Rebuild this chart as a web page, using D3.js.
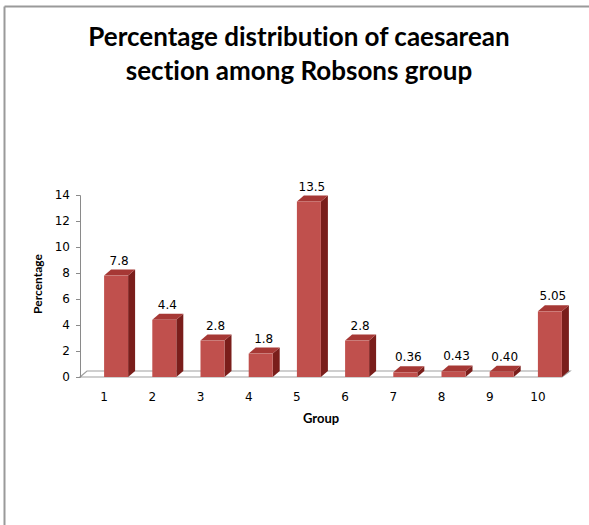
<!DOCTYPE html>
<html>
<head>
<meta charset="utf-8">
<script src="https://cdn.jsdelivr.net/npm/d3@7"></script>
<style>
  body { margin: 0; background: #fff; }
  svg { display: block; }
  text { font-variant-ligatures: none; }
</style>
</head>
<body>
<div id="chart"></div>
<script>
// Data
const groups = ['1', '2', '3', '4', '5', '6', '7', '8', '9', '10'];
const percentages = [7.8, 4.4, 2.8, 1.8, 13.5, 2.8, 0.36, 0.43, 0.40, 5.05];
const valueLabels = ['7.8', '4.4', '2.8', '1.8', '13.5', '2.8', '0.36', '0.43', '0.40', '5.05'];
const yTicks = [0, 2, 4, 6, 8, 10, 12, 14];
const titleLines = ['Percentage distribution of caesarean', 'section among Robsons group'];

// Layout
const W = 589, H = 525;
const plot = { left: 80, right: 562, top: 195, bottom: 377 };
const depth = { dx: 7, dy: 6 };
const colors = { front: '#c0504d', top: '#a63835', side: '#7a1e1b', axis: '#8a8a8a' };

const svg = d3.select('#chart').append('svg')
    .attr('width', W)
    .attr('height', H);

// frame (top and left edges only, as in the source)
svg.append('line').attr('x1', 4.5).attr('y1', 6.5).attr('x2', W).attr('y2', 6.5)
    .attr('stroke', '#9a9a9a').attr('stroke-width', 2);
svg.append('line').attr('x1', 4.5).attr('y1', 6.5).attr('x2', 4.5).attr('y2', H)
    .attr('stroke', '#9a9a9a').attr('stroke-width', 2);

// title
svg.append('text')
    .attr('x', 299)
    .attr('text-anchor', 'middle')
    .style('font-family', 'Lato, "Open Sans", sans-serif')
    .style('font-weight', 'bold')
    .style('font-size', '26px')
    .style('fill', '#000')
    .selectAll('tspan')
    .data(titleLines)
    .join('tspan')
    .attr('x', 299)
    .attr('y', (d, i) => 46 + i * 34)
    .text(d => d);

// scales
const x = d3.scaleBand().domain(groups).range([plot.left, plot.right]);
const y = d3.scaleLinear().domain([0, 14]).range([plot.bottom, plot.top]);

// floor (3D)
const floorPts = [
    [plot.left, plot.bottom],
    [plot.right, plot.bottom],
    [plot.right + depth.dx + 1, plot.bottom - depth.dy],
    [plot.left + depth.dx, plot.bottom - depth.dy]
];
svg.append('polygon')
    .attr('points', floorPts.map(p => p.join(',')).join(' '))
    .attr('fill', '#fff')
    .attr('stroke', '#a0a0a0')
    .attr('stroke-width', 1.2);

// y axis
const yAxis = svg.append('g')
    .attr('transform', `translate(${plot.left},0)`)
    .call(d3.axisLeft(y).tickValues(yTicks).tickSize(4).tickPadding(6));
yAxis.select('.domain').attr('stroke', colors.axis);
yAxis.selectAll('.tick line').attr('stroke', colors.axis);
yAxis.selectAll('.tick text')
    .style('font-family', '"DejaVu Sans", sans-serif')
    .style('font-size', '12px')
    .attr('fill', '#000');

// x axis labels
svg.append('g')
    .selectAll('text')
    .data(groups)
    .join('text')
    .attr('x', d => x(d) + x.bandwidth() / 2)
    .attr('y', 401)
    .attr('text-anchor', 'middle')
    .style('font-family', '"DejaVu Sans", sans-serif')
    .style('font-size', '12px')
    .text(d => d);

// bars (front face starts at band centre, set back on the floor)
const barW = 24;
const bars = svg.append('g')
    .selectAll('g')
    .data(percentages)
    .join('g');

const bx = (d, i) => x(groups[i]) + x.bandwidth() / 2;

bars.append('polygon') // side
    .attr('points', (d, i) => {
        const x0 = bx(d, i) + barW, yt = y(d), yb = y(0);
        return [[x0, yb], [x0, yt], [x0 + depth.dx, yt - depth.dy], [x0 + depth.dx, yb - depth.dy]]
            .map(p => p.join(',')).join(' ');
    })
    .attr('fill', colors.side);

bars.append('polygon') // top
    .attr('points', (d, i) => {
        const x0 = bx(d, i), yt = y(d);
        return [[x0, yt], [x0 + barW, yt], [x0 + barW + depth.dx, yt - depth.dy], [x0 + depth.dx, yt - depth.dy]]
            .map(p => p.join(',')).join(' ');
    })
    .attr('fill', colors.top);

bars.append('rect') // front
    .attr('x', bx)
    .attr('y', d => y(d))
    .attr('width', barW)
    .attr('height', d => y(0) - y(d))
    .attr('fill', colors.front);

// value labels
svg.append('g')
    .selectAll('text')
    .data(percentages)
    .join('text')
    .attr('x', (d, i) => bx(d, i) + barW / 2 + 3)
    .attr('y', d => y(d) - depth.dy - 5)
    .attr('text-anchor', 'middle')
    .style('font-family', '"DejaVu Sans", sans-serif')
    .style('font-size', '12px')
    .text((d, i) => valueLabels[i]);

// axis titles
svg.append('text')
    .attr('x', 321)
    .attr('y', 423)
    .attr('text-anchor', 'middle')
    .style('font-family', 'Lato, sans-serif')
    .style('font-weight', 'bold')
    .style('font-size', '13px')
    .text('Group');

svg.append('text')
    .attr('transform', 'translate(42,284) rotate(-90)')
    .attr('text-anchor', 'middle')
    .style('font-family', 'Lato, sans-serif')
    .style('font-weight', 'bold')
    .style('font-size', '12px')
    .text('Percentage');
</script>
</body>
</html>
